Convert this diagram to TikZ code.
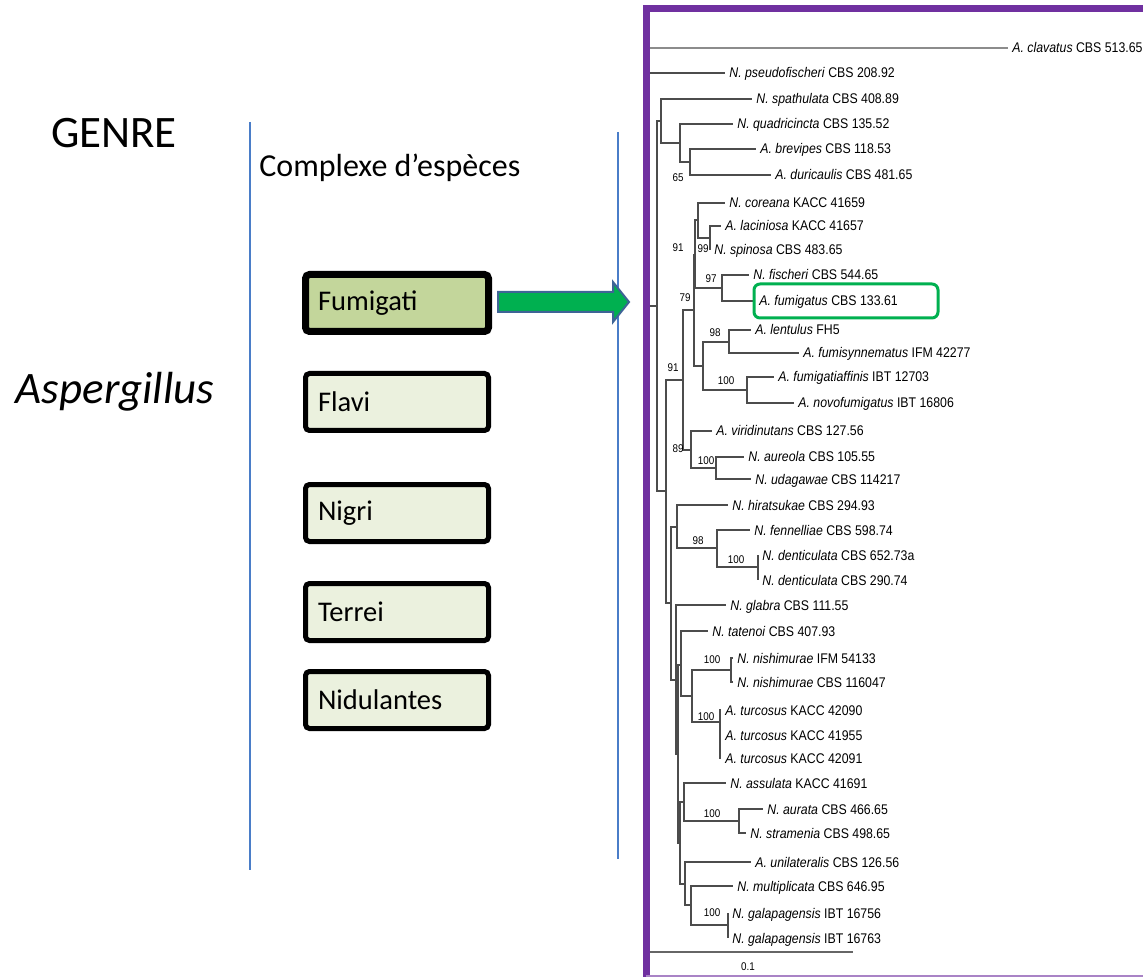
\documentclass[tikz,border=0pt]{standalone}
\usepackage{fontspec}
\setmainfont{Carlito}
\newfontfamily\treefont[FakeStretch=0.88]{Liberation Sans}
\usetikzlibrary{positioning, calc}

\definecolor{sepblue}{HTML}{4A7DC8}
\definecolor{fumfill}{HTML}{C3D69B}
\definecolor{boxfill}{HTML}{EBF1DE}
\definecolor{arrowgreen}{HTML}{00B050}
\definecolor{arrowblue}{HTML}{3E6496}
\definecolor{framepurple}{HTML}{7030A0}

\tikzset{
  title/.style={font=\fontsize{22.5}{27}\selectfont, inner sep=0pt, anchor=base},
  clade/.style={draw=black, fill=boxfill, line width=2.5pt, rounded corners=2pt, outer sep=0pt,
    minimum height=28.5pt, text width=79pt, align=left, inner xsep=6.25pt,
    font=\fontsize{14.25}{17}\selectfont},
  leaf/.style={anchor=west, inner xsep=2pt, inner ysep=0pt, text height=5pt, text depth=0pt,
    font=\treefont\fontsize{7}{8}\selectfont},
  boot/.style={inner sep=0pt, font=\treefont\fontsize{5.6}{6}\selectfont},
  branch/.style={draw=black!70, line width=0.8pt},
  sepline/.style={draw=sepblue, line width=0.75pt},
  bigarrow/.style={draw=arrowblue, fill=arrowgreen, line width=1pt, line join=miter},
  hlbox/.style={draw=arrowgreen, line width=1.5pt, rounded corners=3pt, inner sep=0pt}
}

\begin{document}
\begin{tikzpicture}[x=0.5pt, y=-0.5pt]
  \useasboundingbox (0,0) rectangle (1143,977);
  \clip (0,0) rectangle (1143,977);

  % Left panel: titles and separators
  \node (genre) [title] at (114,148) {GENRE};
  \node (genus) [title, font=\fontsize{22.5}{27}\selectfont\itshape] at (115,404) {Aspergillus};
  \node (complexe) [inner sep=0pt, anchor=base west, font=\fontsize{16}{19}\selectfont] at (259,177) {Complexe d’espèces};
  \draw [sepline] (250,122) -- (250,870);
  \draw [sepline] (618,132) -- (618,859);

  % Species complexes, stacked below one another
  \node (fumigati) [clade, fill=fumfill, line width=3.5pt] at (397,303) {Fumigati};
  \node (flavi) [clade, below=21pt of fumigati] {Flavi};
  \node (nigri) [clade, below=27pt of flavi] {Nigri};
  \node (terrei) [clade, below=21pt of nigri] {Terrei};
  \node (nidulantes) [clade, below=15.5pt of terrei] {Nidulantes};

  % Block arrow from Fumigati to the tree
  \coordinate (arrow_tail) at ($(fumigati.east)+(9.5,-1)$);
  \coordinate (arrow_tip) at (629,302);
  \draw [bigarrow] ($(arrow_tail)+(0,-10)$) -- ($(arrow_tip)+(-16,-10)$) -- ($(arrow_tip)+(-16,-20)$)
    -- (arrow_tip) -- ($(arrow_tip)+(-16,20)$) -- ($(arrow_tip)+(-16,10)$) -- ($(arrow_tail)+(0,10)$) -- cycle;

  % Tree: internal nodes
  \coordinate (root) at (648,176);
  \coordinate (n_main) at (657,306);
  \coordinate (n_spath) at (661,121);
  \coordinate (n_quad) at (680,143);
  \coordinate (n_brev) at (690,162);
  \coordinate (n_core) at (666,491);
  \coordinate (n_fum) at (683,380);
  \coordinate (n_79) at (694,310);
  \coordinate (n_91) at (695,255);
  \coordinate (n_coreana) at (698,220);
  \coordinate (n_99) at (710,238);
  \coordinate (n_97) at (722,288);
  \coordinate (n_len) at (703,366);
  \coordinate (n_98) at (729,342);
  \coordinate (n_affin) at (747,390);
  \coordinate (n_89) at (691,450);
  \coordinate (n_aureola) at (716,468);
  \coordinate (n_hir) at (671,603);
  \coordinate (n_hirats) at (677,527);
  \coordinate (n_fenn) at (717,548);
  \coordinate (n_dent) at (758,567);
  \coordinate (n_glabra) at (676,680);
  \coordinate (n_p1) at (678,754);
  \coordinate (n_tat) at (681,665);
  \coordinate (n_nt) at (692,696);
  \coordinate (n_nish) at (731,670);
  \coordinate (n_turc) at (720,722);
  \coordinate (n_p2) at (680,843);
  \coordinate (n_assul) at (684,802);
  \coordinate (n_aur) at (739,821);
  \coordinate (n_unil) at (685,884);
  \coordinate (n_mult) at (691,905);
  \coordinate (n_gal) at (728,925);

  % Tree: leaves
  \node (clavatus) [leaf] at (1008,48) {\textit{A. clavatus} CBS 513.65};
  \node (pseudofischeri) [leaf] at (725,73) {\textit{N. pseudofischeri} CBS 208.92};
  \node (spathulata) [leaf] at (752,99) {\textit{N. spathulata} CBS 408.89};
  \node (quadricincta) [leaf] at (733,124) {\textit{N. quadricincta} CBS 135.52};
  \node (brevipes) [leaf] at (756,149) {\textit{A. brevipes} CBS 118.53};
  \node (duricaulis) [leaf] at (771,175) {\textit{A. duricaulis} CBS 481.65};
  \node (coreana) [leaf] at (725,203) {\textit{N. coreana} KACC 41659};
  \node (laciniosa) [leaf] at (721,226) {\textit{A. laciniosa} KACC 41657};
  \node (spinosa) [leaf] at (710,250) {\textit{N. spinosa} CBS 483.65};
  \node (fischeri) [leaf] at (749,275) {\textit{N. fischeri} CBS 544.65};
  \node (fumigatus) [leaf] at (755,301) {\textit{A. fumigatus} CBS 133.61};
  \node (lentulus) [leaf] at (751,330) {\textit{A. lentulus} FH5};
  \node (fumisynnematus) [leaf] at (799,353) {\textit{A. fumisynnematus} IFM 42277};
  \node (fumigatiaffinis) [leaf] at (774,377) {\textit{A. fumigatiaffinis} IBT 12703};
  \node (novofumigatus) [leaf] at (794,403) {\textit{A. novofumigatus} IBT 16806};
  \node (viridinutans) [leaf] at (712,431) {\textit{A. viridinutans} CBS 127.56};
  \node (aureola) [leaf] at (744,457) {\textit{N. aureola} CBS 105.55};
  \node (udagawae) [leaf] at (751,479) {\textit{N. udagawae} CBS 114217};
  \node (hiratsukae) [leaf] at (728,505) {\textit{N. hiratsukae} CBS 294.93};
  \node (fennelliae) [leaf] at (750,530) {\textit{N. fennelliae} CBS 598.74};
  \node (denticulata_a) [leaf] at (758,555) {\textit{N. denticulata} CBS 652.73a};
  \node (denticulata_b) [leaf] at (758,580) {\textit{N. denticulata} CBS 290.74};
  \node (glabra) [leaf] at (726,605) {\textit{N. glabra} CBS 111.55};
  \node (tatenoi) [leaf] at (708,631) {\textit{N. tatenoi} CBS 407.93};
  \node (nishimurae_a) [leaf] at (733,658) {\textit{N. nishimurae} IFM 54133};
  \node (nishimurae_b) [leaf] at (733,682) {\textit{N. nishimurae} CBS 116047};
  \node (turcosus_a) [leaf] at (721,710) {\textit{A. turcosus} KACC 42090};
  \node (turcosus_b) [leaf] at (721,735) {\textit{A. turcosus} KACC 41955};
  \node (turcosus_c) [leaf] at (721,758) {\textit{A. turcosus} KACC 42091};
  \node (assulata) [leaf] at (726,783) {\textit{N. assulata} KACC 41691};
  \node (aurata) [leaf] at (763,809) {\textit{N. aurata} CBS 466.65};
  \node (stramenia) [leaf] at (746,833) {\textit{N. stramenia} CBS 498.65};
  \node (unilateralis) [leaf] at (751,862) {\textit{A. unilateralis} CBS 126.56};
  \node (multiplicata) [leaf] at (733,886) {\textit{N. multiplicata} CBS 646.95};
  \node (galapagensis_a) [leaf] at (728,913) {\textit{N. galapagensis} IBT 16756};
  \node (galapagensis_b) [leaf] at (728,938) {\textit{N. galapagensis} IBT 16763};

  % Tree: branches
  \draw [branch, draw=black!45, line width=1.2pt] (root) |- (clavatus.west);
  \draw [branch] (root) |- (pseudofischeri.west);
  \draw [branch] (root) |- (n_main);
  \draw [branch] (n_main) |- (n_spath);
  \draw [branch] (n_main) |- (n_core);
  \draw [branch] (n_spath) |- (spathulata.west);
  \draw [branch] (n_spath) |- (n_quad);
  \draw [branch] (n_quad) |- (quadricincta.west);
  \draw [branch] (n_quad) |- (n_brev);
  \draw [branch] (n_brev) |- (brevipes.west);
  \draw [branch] (n_brev) |- (duricaulis.west);
  \draw [branch] (n_core) |- (n_fum);
  \draw [branch] (n_core) |- (n_hir);
  \draw [branch] (n_fum) |- (n_79);
  \draw [branch] (n_fum) |- (n_89);
  \draw [branch] (n_79) |- (n_91);
  \draw [branch] (n_79) |- (n_len);
  \draw [branch] (n_91) |- (n_coreana);
  \draw [branch] (n_91) |- (n_97);
  \draw [branch] (n_coreana) |- (coreana.west);
  \draw [branch] (n_coreana) |- (n_99);
  \draw [branch] (n_99) |- (laciniosa.west);
  \draw [branch] (n_99) |- (spinosa.west);
  \draw [branch] (n_97) |- (fischeri.west);
  \draw [branch] (n_97) |- (fumigatus.west);
  \draw [branch] (n_len) |- (n_98);
  \draw [branch] (n_len) |- (n_affin);
  \draw [branch] (n_98) |- (lentulus.west);
  \draw [branch] (n_98) |- (fumisynnematus.west);
  \draw [branch] (n_affin) |- (fumigatiaffinis.west);
  \draw [branch] (n_affin) |- (novofumigatus.west);
  \draw [branch] (n_89) |- (viridinutans.west);
  \draw [branch] (n_89) |- (n_aureola);
  \draw [branch] (n_aureola) |- (aureola.west);
  \draw [branch] (n_aureola) |- (udagawae.west);
  \draw [branch] (n_hir) |- (n_hirats);
  \draw [branch] (n_hir) |- (n_glabra);
  \draw [branch] (n_hirats) |- (hiratsukae.west);
  \draw [branch] (n_hirats) |- (n_fenn);
  \draw [branch] (n_fenn) |- (fennelliae.west);
  \draw [branch] (n_fenn) |- (n_dent);
  \draw [branch] (n_dent) |- (denticulata_a.west);
  \draw [branch] (n_dent) |- (denticulata_b.west);
  \draw [branch] (n_glabra) |- (glabra.west);
  \draw [branch] (n_glabra) |- (n_p1);
  \draw [branch] (n_p1) |- (n_tat);
  \draw [branch] (n_p1) |- (n_p2);
  \draw [branch] (n_tat) |- (tatenoi.west);
  \draw [branch] (n_tat) |- (n_nt);
  \draw [branch] (n_nt) |- (n_nish);
  \draw [branch] (n_nt) |- (n_turc);
  \draw [branch] (n_nish) |- (nishimurae_a.west);
  \draw [branch] (n_nish) |- (nishimurae_b.west);
  \draw [branch] (n_turc) |- (turcosus_a.west);
  \draw [branch] (n_turc) |- (turcosus_b.west);
  \draw [branch] (n_turc) |- (turcosus_c.west);
  \draw [branch] (n_p2) |- (n_assul);
  \draw [branch] (n_p2) |- (n_unil);
  \draw [branch] (n_assul) |- (assulata.west);
  \draw [branch] (n_assul) |- (n_aur);
  \draw [branch] (n_aur) |- (aurata.west);
  \draw [branch] (n_aur) |- (stramenia.west);
  \draw [branch] (n_unil) |- (unilateralis.west);
  \draw [branch] (n_unil) |- (n_mult);
  \draw [branch] (n_mult) |- (multiplicata.west);
  \draw [branch] (n_mult) |- (n_gal);
  \draw [branch] (n_gal) |- (galapagensis_a.west);
  \draw [branch] (n_gal) |- (galapagensis_b.west);

  % Bootstrap values
  \node (b_65) [boot] at (678,178) {65};
  \node (b_91a) [boot] at (678,248) {91};
  \node (b_99) [boot] at (703,249) {99};
  \node (b_97) [boot] at (711,279) {97};
  \node (b_79) [boot] at (685,298) {79};
  \node (b_98a) [boot] at (715,333) {98};
  \node (b_91b) [boot] at (673,368) {91};
  \node (b_100a) [boot] at (726,381) {100};
  \node (b_89) [boot] at (678,449) {89};
  \node (b_100b) [boot] at (706,461) {100};
  \node (b_98b) [boot] at (698,541) {98};
  \node (b_100c) [boot] at (736,560) {100};
  \node (b_100d) [boot] at (712,660) {100};
  \node (b_100e) [boot] at (706,717) {100};
  \node (b_100f) [boot] at (712,814) {100};
  \node (b_100g) [boot] at (712,913) {100};

  % Scale bar
  \draw [branch, draw=black!60] (650,952) -- (853,952);
  \node (scale_label) [boot] at (748,967) {0.1};

  % Highlight around A. fumigatus
  \node (fumigatus_box) [hlbox, minimum width=92pt, minimum height=17pt] at (846,301) {};

  % Purple frame round the tree, drawn last
  \draw [framepurple, line width=3.5pt, line join=miter] (1150,9) -- (646,9) -- (646,985);
  \draw [framepurple!60, line width=1pt] (646,976) -- (1150,976);
\end{tikzpicture}
\end{document}
